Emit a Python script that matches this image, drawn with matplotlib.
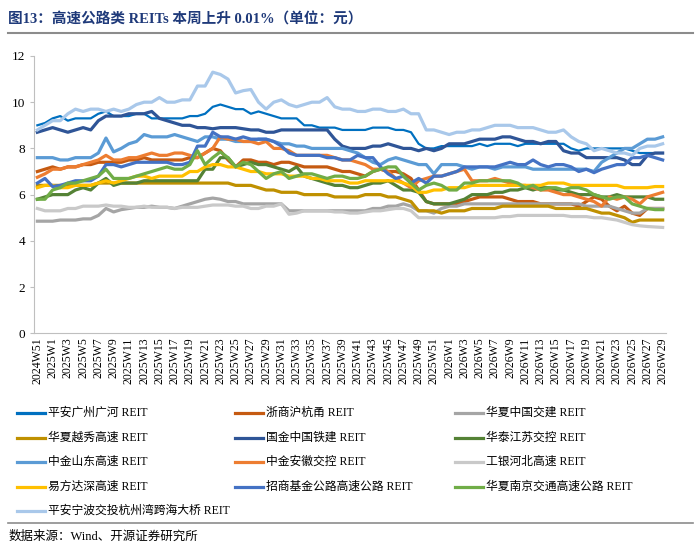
import matplotlib
matplotlib.use("Agg")
import matplotlib.pyplot as plt
import numpy as np

plt.rcParams['font.family'] = ['Liberation Serif', 'Noto Sans CJK SC']

weeks = ["2024W51", "2024W52"] + [f"2025W{i}" for i in range(1, 53)] + [f"2026W{i}" for i in range(1, 30)]

names = ["平安广州广河 REIT", "浙商沪杭甬 REIT", "华夏中国交建 REIT",
         "华夏越秀高速 REIT", "国金中国铁建 REIT", "华泰江苏交控 REIT",
         "中金山东高速 REIT", "中金安徽交控 REIT", "工银河北高速 REIT",
         "易方达深高速 REIT", "招商基金公路高速公路 REIT", "华夏南京交通高速公路 REIT",
         "平安宁波交投杭州湾跨海大桥 REIT"]
colors = ["#0070C0", "#C55A11", "#A5A5A5", "#BF9000", "#2F5597", "#548235",
          "#5B9BD5", "#ED7D31", "#C9C9C9", "#FFC000", "#4472C4", "#70AD47", "#A9C8EA"]

guanghe = [9.0,9.1,9.3,9.4,9.2,9.3,9.3,9.3,9.5,9.6,
           9.4,9.4,9.4,9.5,9.5,9.3,9.3,9.3,9.3,9.3,
           9.4,9.4,9.5,9.8,9.9,9.8,9.7,9.7,9.5,9.6,
           9.5,9.4,9.3,9.3,9.3,9.0,9.0,8.9,8.9,8.9,
           8.8,8.8,8.8,8.8,8.9,8.9,8.9,8.8,8.8,8.7,
           8.2,8.0,8.0,8.1,8.1,8.1,8.1,8.1,8.2,8.1,
           8.2,8.2,8.2,8.1,8.2,8.2,8.2,8.2,8.2,8.2,
           8.0,7.9,8.0,8.0,8.0,8.0,8.0,8.0,7.9,7.8,
           7.8,7.8,7.8]
huhangyong = [7.0,7.1,7.2,7.1,7.2,7.2,7.3,7.3,7.4,7.4,
              7.4,7.4,7.5,7.5,7.6,7.5,7.5,7.5,7.5,7.5,
              7.6,7.6,7.8,8.0,7.9,7.5,7.2,7.5,7.5,7.4,
              7.4,7.3,7.4,7.4,7.3,7.2,7.2,7.2,7.2,7.1,
              7.0,7.0,6.9,6.8,7.0,7.1,7.0,7.0,6.9,6.7,
              6.2,5.7,5.6,5.6,5.6,5.6,5.7,5.8,5.9,5.9,
              5.9,5.9,5.8,5.7,5.7,5.7,5.6,5.6,5.6,5.6,
              5.6,5.5,5.7,5.9,5.8,5.5,5.3,5.5,5.2,5.1,
              5.4,5.4,5.4]
zhongjiao = [4.85,4.85,4.85,4.9,4.9,4.9,4.95,4.95,5.1,5.4,
             5.25,5.35,5.4,5.45,5.45,5.5,5.45,5.45,5.4,5.5,
             5.6,5.7,5.8,5.85,5.8,5.7,5.7,5.6,5.6,5.6,
             5.6,5.6,5.6,5.3,5.3,5.3,5.3,5.3,5.3,5.3,
             5.3,5.3,5.3,5.3,5.4,5.4,5.5,5.5,5.6,5.5,
             5.3,5.3,5.2,5.4,5.5,5.5,5.6,5.6,5.6,5.6,
             5.6,5.6,5.6,5.6,5.6,5.6,5.6,5.6,5.6,5.6,
             5.6,5.6,5.5,5.5,5.5,5.5,5.4,5.3,5.2,5.2,
             5.4,5.4,5.4]
yuexiu = [6.4,6.4,6.4,6.4,6.4,6.4,6.4,6.4,6.5,6.5,
          6.5,6.5,6.5,6.5,6.5,6.5,6.5,6.5,6.5,6.5,
          6.5,6.5,6.5,6.5,6.5,6.5,6.4,6.4,6.4,6.3,
          6.2,6.2,6.1,6.1,6.1,6.0,6.0,6.0,6.0,5.9,
          5.9,5.9,5.9,6.0,6.0,6.0,5.9,5.9,5.8,5.7,
          5.3,5.3,5.3,5.2,5.3,5.3,5.3,5.4,5.4,5.4,
          5.4,5.5,5.5,5.5,5.5,5.5,5.5,5.5,5.4,5.4,
          5.4,5.4,5.4,5.3,5.2,5.2,5.1,5.0,4.8,4.9,
          4.9,4.9,4.9]
tiejian = [8.7,8.8,8.9,8.8,8.7,8.8,8.9,8.8,9.2,9.4,
           9.4,9.4,9.5,9.5,9.5,9.6,9.3,9.2,9.1,9.0,
           9.0,8.9,8.9,8.85,8.9,8.9,8.9,8.85,8.8,8.8,
           8.7,8.7,8.8,8.8,8.8,8.8,8.8,8.8,8.8,8.4,
           8.1,8.0,8.0,8.0,8.1,8.1,8.2,8.1,8.0,8.0,
           7.9,8.0,7.9,8.0,8.2,8.2,8.2,8.3,8.4,8.4,
           8.4,8.5,8.5,8.4,8.3,8.3,8.2,8.3,8.3,7.9,
           7.8,7.8,7.6,7.6,7.6,7.6,7.6,7.5,7.3,7.3,
           7.7,7.8,7.8]
jiangsu = [5.8,5.9,6.0,6.0,6.0,6.2,6.3,6.2,6.5,6.7,
           6.4,6.5,6.5,6.5,6.6,6.6,6.6,6.6,6.6,6.6,
           6.6,6.6,7.1,7.1,7.6,7.6,7.2,7.3,7.4,7.3,
           7.3,7.2,7.1,7.0,7.2,6.8,6.7,6.6,6.5,6.4,
           6.4,6.3,6.3,6.4,6.5,6.5,6.6,6.4,6.2,6.2,
           6.1,5.7,5.6,5.6,5.6,5.7,5.8,6.0,6.0,6.0,
           6.1,6.1,6.2,6.2,6.3,6.2,6.3,6.3,6.2,6.2,
           6.1,6.0,6.0,6.0,5.9,5.9,6.0,5.9,5.9,5.9,
           5.9,5.8,5.8]
shandong = [7.6,7.6,7.6,7.5,7.5,7.6,7.6,7.6,7.8,8.45,
            7.85,8.0,8.2,8.3,8.6,8.5,8.5,8.5,8.6,8.5,
            8.4,8.3,8.5,8.5,8.4,8.4,8.3,8.3,8.3,8.4,
            8.4,8.3,8.2,8.2,8.1,8.1,8.0,8.0,8.0,8.0,
            8.0,7.9,7.8,7.6,7.4,7.3,7.5,7.6,7.5,7.4,
            7.3,7.3,6.9,7.3,7.3,7.3,7.2,7.1,7.2,7.2,
            7.1,7.2,7.2,7.2,7.2,7.1,7.1,7.1,7.1,7.1,
            7.1,7.1,7.1,7.0,7.4,7.6,7.8,8.0,8.0,8.2,
            8.4,8.4,8.5]
anhui = [6.75,6.9,7.1,7.1,7.2,7.2,7.3,7.4,7.5,7.7,
         7.5,7.5,7.6,7.6,7.7,7.8,7.7,7.7,7.8,7.8,
         7.7,7.6,7.8,8.0,8.5,8.4,8.4,8.3,8.3,8.2,
         8.3,8.0,8.0,7.9,7.7,7.7,7.7,7.7,7.7,7.6,
         7.5,7.5,7.4,7.3,7.1,7.1,7.0,6.7,6.5,6.3,
         6.6,6.7,6.8,6.8,6.9,7.0,7.1,6.6,6.6,6.6,
         6.7,6.6,6.5,6.4,6.4,6.3,6.2,6.2,6.1,6.0,
         6.0,5.9,5.8,5.7,5.5,5.9,5.8,5.9,5.8,5.6,
         5.9,6.0,6.1]
hebei = [5.4,5.3,5.3,5.3,5.4,5.4,5.5,5.5,5.5,5.55,
         5.5,5.5,5.45,5.45,5.5,5.45,5.45,5.45,5.4,5.45,
         5.45,5.45,5.5,5.55,5.55,5.55,5.5,5.5,5.4,5.4,
         5.5,5.5,5.6,5.15,5.2,5.3,5.3,5.3,5.3,5.25,
         5.25,5.2,5.2,5.25,5.3,5.3,5.35,5.4,5.4,5.3,
         5.0,5.0,5.0,5.0,5.0,5.0,5.0,5.0,5.0,5.0,
         5.0,5.05,5.05,5.1,5.1,5.1,5.1,5.1,5.1,5.1,
         5.05,5.05,5.05,5.0,5.0,4.95,4.9,4.8,4.7,4.65,
         4.62,4.6,4.58]
shengaosu = [6.3,6.4,6.4,6.3,6.3,6.4,6.4,6.4,6.5,6.6,
             6.5,6.6,6.7,6.8,6.8,6.7,6.8,6.8,6.8,6.8,
             7.0,7.0,7.2,7.3,7.3,7.2,7.2,7.1,7.0,7.0,
             6.9,6.9,6.9,6.8,6.8,6.8,6.7,6.7,6.6,6.6,
             6.6,6.5,6.5,6.6,6.6,6.6,6.6,6.6,6.5,6.4,
             6.1,6.1,6.2,6.2,6.3,6.3,6.3,6.4,6.4,6.4,
             6.4,6.4,6.4,6.4,6.4,6.4,6.4,6.5,6.5,6.5,
             6.4,6.4,6.4,6.4,6.4,6.4,6.4,6.3,6.3,6.3,
             6.3,6.35,6.35]
zhaoshang = [6.5,6.7,6.35,6.4,6.5,6.6,6.6,6.6,6.8,7.3,
             7.3,7.2,7.3,7.4,7.4,7.4,7.4,7.4,7.3,7.3,
             7.4,8.1,8.1,8.7,8.5,8.5,8.4,8.5,8.4,8.4,
             8.4,8.3,8.1,7.8,7.7,7.7,7.7,7.7,7.6,7.6,
             7.5,7.5,7.7,7.6,7.6,7.2,6.9,6.7,6.8,6.5,
             6.7,6.5,6.8,6.8,6.9,7.0,7.2,7.2,7.2,7.2,
             7.2,7.3,7.4,7.3,7.3,7.5,7.3,7.2,7.3,7.3,
             7.2,7.0,7.1,6.95,7.1,7.2,7.3,7.3,7.6,7.6,
             7.7,7.6,7.5]
nanjing = [5.8,5.8,6.2,6.3,6.5,6.5,6.6,6.7,6.8,7.1,
           6.7,6.7,6.7,6.8,6.9,7.0,7.1,7.2,7.1,7.1,
           7.3,7.9,7.3,7.6,7.85,7.6,7.2,7.4,7.3,7.0,
           6.7,6.9,7.0,6.7,6.8,6.9,6.9,6.8,6.7,6.8,
           6.8,6.7,6.7,6.8,7.0,7.1,7.2,7.2,6.8,6.5,
           6.2,6.4,6.5,6.4,6.2,6.2,6.5,6.5,6.6,6.6,
           6.6,6.6,6.6,6.5,6.3,6.4,6.2,6.3,6.3,6.2,
           6.3,6.3,6.2,6.0,5.9,5.8,5.9,5.9,5.6,5.5,
           5.4,5.35,5.35]
hangzhouwan = [8.8,9.0,9.2,9.2,9.5,9.7,9.6,9.7,9.7,9.6,
               9.7,9.6,9.7,9.9,10.0,10.0,10.2,10.0,10.0,10.1,
               10.1,10.7,10.7,11.3,11.2,11.0,10.4,10.5,10.55,10.0,
               9.7,10.0,10.1,9.9,9.8,9.9,10.0,10.0,10.2,9.8,
               9.7,9.7,9.6,9.6,9.7,9.7,9.6,9.6,9.7,9.5,
               9.5,8.8,8.8,8.7,8.6,8.7,8.7,8.8,8.8,8.9,
               9.0,9.0,9.0,8.9,8.9,8.9,8.8,8.7,8.7,8.8,
               8.5,8.3,8.2,7.9,8.0,7.9,7.8,7.8,7.7,8.0,
               8.1,8.1,8.2]

series = [guanghe, huhangyong, zhongjiao, yuexiu, tiejian, jiangsu, shandong,
          anhui, hebei, shengaosu, zhaoshang, nanjing, hangzhouwan]

W, H = 700, 549
fig = plt.figure(figsize=(W / 100, H / 100), dpi=100)
ax = fig.add_axes([0.049, 0.393, 0.902, 0.505])
x = np.arange(len(weeks))
for name, vals, c in zip(names, series, colors):
    lw = 1.6 if name.startswith("平安广州") else 2.3
    ax.plot(x, vals, color=c, lw=lw)

ax.set_ylim(0, 12)
ax.set_yticks(range(0, 13, 2))
ax.set_xlim(-0.4, len(weeks) - 0.6)
ax.set_xticks(x[::2])
ax.set_xticklabels(weeks[::2], rotation=90, fontsize=8.5)
ax.tick_params(axis='y', labelsize=9.5, length=3, color='#BFBFBF')
ax.tick_params(axis='x', length=0, pad=3)
for s in ['top', 'right']:
    ax.spines[s].set_visible(False)
ax.spines['left'].set_color('#BFBFBF')
ax.spines['bottom'].set_color('#BFBFBF')

# legend: 3 columns, filled row by row
col_x = [17, 235, 455]
row_y0, row_dy = 413, 24.5
for k, (name, c) in enumerate(zip(names, colors)):
    r, col = divmod(k, 3)
    px, py = col_x[col], row_y0 + r * row_dy
    fig.add_artist(plt.Line2D([px / W, (px + 28) / W], [1 - py / H, 1 - py / H],
                              color=c, lw=2.3))
    fig.text((px + 31) / W, 1 - py / H, name, fontsize=8.5, va='center')

fig.text(0.012, 0.965, "图13：高速公路类 REITs 本周上升 0.01%（单位：元）",
         fontsize=10.5, fontweight='bold', color='#1F3A7A', va='center')
fig.add_artist(plt.Line2D([0.012, 0.99], [0.94, 0.94], color='#8C8C8C', lw=1.5))
fig.add_artist(plt.Line2D([0.012, 0.99], [0.048, 0.048], color='#8C8C8C', lw=1.2))
fig.text(0.012, 0.022, "数据来源：Wind、开源证券研究所", fontsize=9, va='center')

fig.savefig("out.png", dpi=100)
